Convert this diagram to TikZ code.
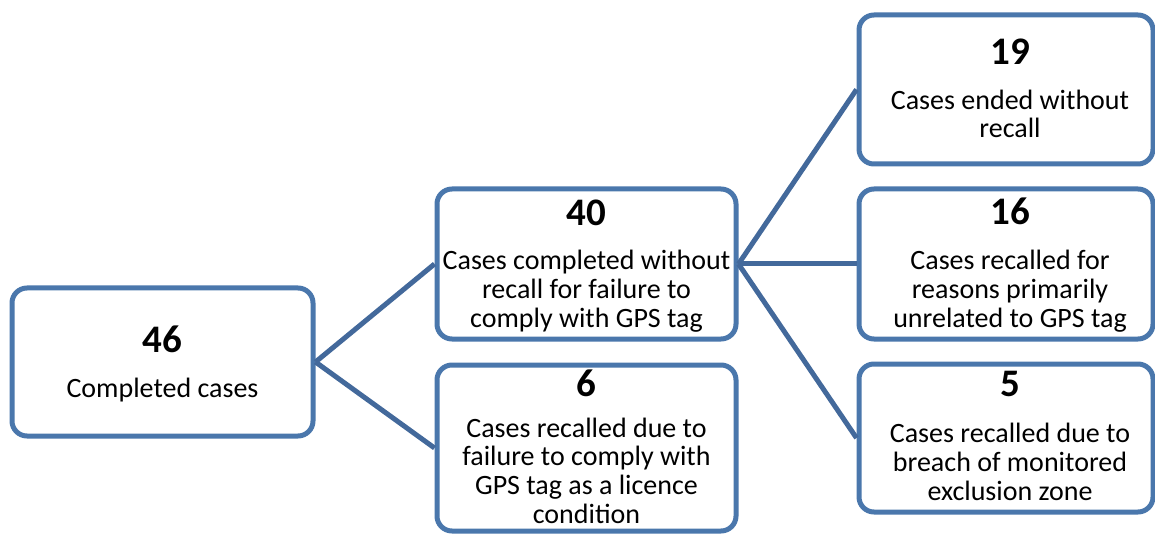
\documentclass[tikz,border=0pt]{standalone}
\usepackage{fontspec}
\setmainfont{Carlito}
\definecolor{boxblue}{HTML}{4A77AC}
\definecolor{linkblue}{HTML}{43699B}
\begin{document}
\begin{tikzpicture}[x=1pt,y=-1pt,
  box/.style={draw=boxblue, line width=5pt, rounded corners=15pt, inner sep=0pt, fill=white},
  num/.style={font=\bfseries\fontsize{39}{39}\selectfont, inner sep=0pt},
  txt/.style={font=\fontsize{28}{28.6}\selectfont, align=center, inner sep=0pt, anchor=base},
  link/.style={draw=linkblue, line width=5pt}]
\useasboundingbox (0,0) rectangle (1155,534);
% boxes
\node[box, minimum width=301pt, minimum height=148pt] (b1) at (162.5,362) {};
\node[box, minimum width=299pt, minimum height=150pt] (b2) at (586.5,264) {};
\node[box, minimum width=299pt, minimum height=166pt] (b3) at (586.5,448) {};
\node[box, minimum width=294pt, minimum height=149pt] (b4) at (1006,89.5) {};
\node[box, minimum width=294pt, minimum height=150pt] (b5) at (1006,264) {};
\node[box, minimum width=294pt, minimum height=148pt] (b6) at (1006,438) {};
% connectors
\draw[link] (b1.east) -- (b2.west);
\draw[link] (b1.east) -- (b3.west);
\draw[link] (b2.east) -- (b4.west);
\draw[link] (b2.east) -- (b5.west);
\draw[link] (b2.east) -- (b6.west);
% texts (anchored at the baseline of the last line)
\node[num] (n1) at (162.5,339) {46};
\node[txt] (t1) at (162.5,397) {Completed cases};
\node[num] (n2) at (586.5,213) {40};
\node[txt] (t2) at (586.5,327) {Cases completed without\\recall for failure to\\comply with GPS tag};
\node[num] (n3) at (586.5,383) {6};
\node[txt] (t3) at (586.5,523) {Cases recalled due to\\failure to comply with\\GPS tag as a licence\\condition};
\node[num] (n4) at (1010,52) {19};
\node[txt] (t4) at (1010,138) {Cases ended without\\recall};
\node[num] (n5) at (1010,211) {16};
\node[txt] (t5) at (1010,327) {Cases recalled for\\reasons primarily\\unrelated to GPS tag};
\node[num] (n6) at (1010,384) {5};
\node[txt] (t6) at (1010,500) {Cases recalled due to\\breach of monitored\\exclusion zone};
\end{tikzpicture}
\end{document}
